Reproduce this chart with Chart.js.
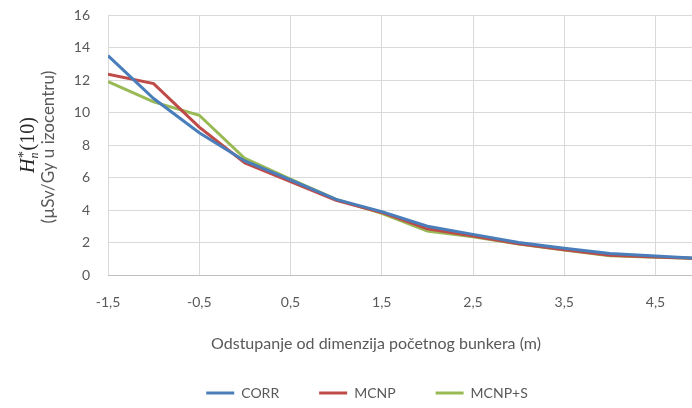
<!DOCTYPE html>
<html>
<head>
<meta charset="utf-8">
<script src="https://cdn.jsdelivr.net/npm/chart.js@4"></script>
<style>
html,body{margin:0;padding:0;background:#fff;}
#wrap{width:692px;height:408px;position:relative;}
</style>
</head>
<body>
<div id="wrap"><canvas id="c" width="692" height="408"></canvas></div>
<script>
const xValues = [-1.5, -1, -0.5, 0, 0.5, 1, 1.5, 2, 2.5, 3, 3.5, 4, 4.5, 5];
const corr  = [13.5, 10.86, 8.75, 7.02, 5.85, 4.65, 3.9, 3.0, 2.5, 2.0, 1.65, 1.33, 1.17, 1.02];
const mcnp  = [12.35, 11.78, 9.1, 6.9, 5.75, 4.6, 3.85, 2.85, 2.4, 1.92, 1.55, 1.22, 1.1, 1.02];
const mcnpS = [11.9, 10.65, 9.83, 7.17, 5.9, 4.65, 3.8, 2.7, 2.35, 1.9, 1.54, 1.19, 1.09, 1.02];
const xTicks = [-1.5, -0.5, 0.5, 1.5, 2.5, 3.5, 4.5];
const seriesNames = ['CORR', 'MCNP', 'MCNP+S'];
const yTitleLine2 = '(µSv/Gy u izocentru)';
const xTitle = 'Odstupanje od dimenzija početnog bunkera (m)';

const colors = ['#4a7ebb', '#be4b48', '#98b954'];
const pts = arr => arr.map((v, i) => ({x: xValues[i], y: v}));

const titlesPlugin = {
  id: 'titles',
  afterLayout(chart) {
    // legend is centred a little right of the canvas centre in the original
    if (chart.legend) { chart.legend.left += 21; chart.legend.right += 21; }
  },
  afterDraw(chart) {
    const ctx = chart.ctx;
    const ca = chart.chartArea;
    const cy = (ca.top + ca.bottom) / 2;
    ctx.save();
    // line 1: H*n(10)
    ctx.translate(27, cy);
    ctx.rotate(-Math.PI / 2);
    ctx.fillStyle = '#262626';
    ctx.textBaseline = 'alphabetic';
    const f1 = 'italic 20px "Liberation Serif"';
    const fSup = '14px "Liberation Serif"';
    const fSub = 'italic 12px "Liberation Serif"';
    const fReg = '20px "Liberation Serif"';
    ctx.font = f1; const wH = ctx.measureText('H').width;
    ctx.font = fSup; const wS = ctx.measureText('*').width;
    ctx.font = fSub; const wN = ctx.measureText('n').width;
    ctx.font = fReg; const wP = ctx.measureText('(10)').width;
    const w2 = Math.max(wS, wN) + 1;
    const total = wH + w2 + wP;
    let x = -total / 2;
    const base = 7;
    ctx.font = f1; ctx.textAlign = 'left'; ctx.fillText('H', x, base); x += wH;
    ctx.font = fSup; ctx.fillText('*', x + 0.5, base - 6);
    ctx.font = fSub; ctx.fillText('n', x, base + 4); x += w2;
    ctx.font = fReg; ctx.fillText('(10)', x, base);
    ctx.restore();
    // line 2
    ctx.save();
    ctx.translate(49, cy + 2);
    ctx.rotate(-Math.PI / 2);
    ctx.fillStyle = '#595959';
    ctx.font = '17px Lato';
    ctx.textAlign = 'center';
    ctx.textBaseline = 'middle';
    ctx.fillText(yTitleLine2, 0, 0);
    ctx.restore();
    // x axis title
    ctx.save();
    ctx.fillStyle = '#595959';
    ctx.font = '16px Lato';
    ctx.textAlign = 'center';
    ctx.textBaseline = 'middle';
    ctx.fillText(xTitle, 376, 344);
    ctx.restore();
  }
};

new Chart(document.getElementById('c'), {
  type: 'line',
  data: {
    datasets: [corr, mcnp, mcnpS].map((arr, i) => ({
      label: seriesNames[i],
      data: pts(arr),
      borderColor: colors[i],
      backgroundColor: colors[i],
      borderWidth: 3,
      pointRadius: 0,
      tension: 0,
      fill: false
    }))
  },
  options: {
    responsive: false,
    animation: false,
    layout: {padding: {top: 15, right: 0, bottom: 0, left: 0}},
    plugins: {
      legend: {
        position: 'bottom',
        maxHeight: 62,
        labels: {
          usePointStyle: true,
          pointStyle: 'line',
          pointStyleWidth: 28,
          boxHeight: 14,
          padding: 40,
          color: '#595959',
          font: {family: 'Lato', size: 14}
        }
      },
      tooltip: {enabled: false}
    },
    scales: {
      x: {
        type: 'linear',
        min: -1.5,
        max: 4.9,
        afterBuildTicks(scale) { scale.ticks = xTicks.map(v => ({value: v})); },
        afterFit(scale) { scale.height = 71; },
        ticks: {
          padding: 19,
          color: '#595959',
          font: {family: 'Lato', size: 14},
          maxRotation: 0,
          autoSkip: false,
          callback: v => String(v).replace('.', ',')
        },
        grid: {color: '#d9d9d9', lineWidth: 1, drawTicks: false},
        border: {display: true, color: '#bfbfbf', width: 1},
        title: {display: false}
      },
      y: {
        min: 0,
        max: 16,
        afterFit(scale) { scale.width = 108; scale.paddingTop = 0; scale.paddingBottom = 0; },
        ticks: {
          stepSize: 2,
          padding: 18,
          color: '#595959',
          font: {family: 'Lato', size: 14}
        },
        grid: {color: '#d9d9d9', lineWidth: 1, drawTicks: false},
        border: {display: false}
      }
    }
  },
  plugins: [titlesPlugin]
});
</script>
</body>
</html>
